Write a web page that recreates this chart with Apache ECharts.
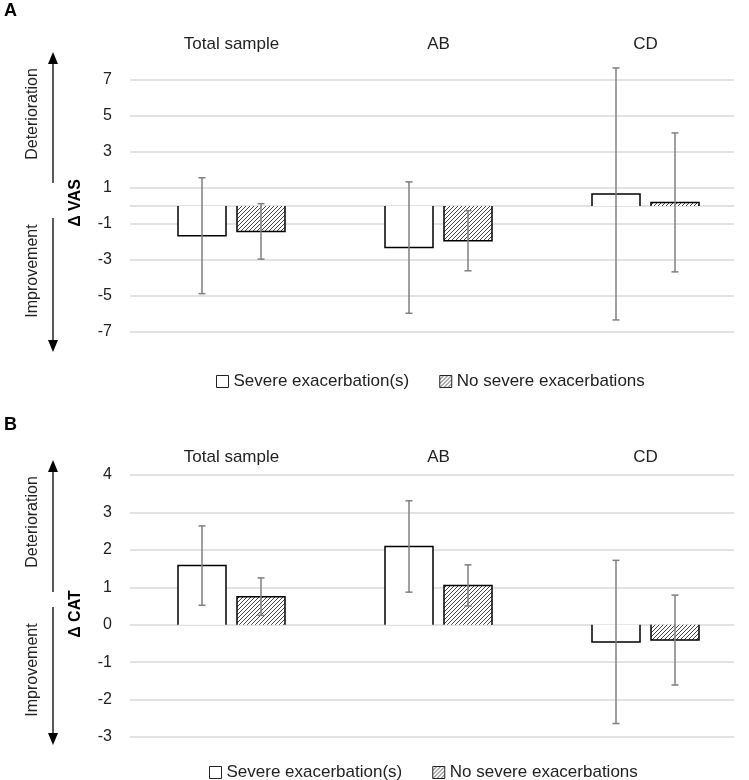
<!DOCTYPE html>
<html><head><meta charset="utf-8">
<script src="https://cdn.jsdelivr.net/npm/echarts@6/dist/echarts.min.js"></script>
<style>html,body{margin:0;padding:0;background:#fff}#c{width:749px;height:780px}</style>
</head><body><div id="c"></div>
<script>
// ---- data ----
const categories = ['Total sample', 'AB', 'CD'];
const seriesNames = ['Severe exacerbation(s)', 'No severe exacerbations'];
// Panel A: Δ VAS (mean, ± error)
const vasSevere = [-1.65, -2.31, 0.67];
const vasSevereErr = [3.22, 3.65, 7.0];
const vasNone = [-1.41, -1.93, 0.2];
const vasNoneErr = [1.54, 1.67, 3.86];
const vasAxis = { min: -7, max: 7, interval: 2 };
// Panel B: Δ CAT (mean, ± error)
const catSevere = [1.58, 2.09, -0.46];
const catSevereErr = [1.06, 1.22, 2.18];
const catNone = [0.75, 1.05, -0.41];
const catNoneErr = [0.5, 0.55, 1.2];
const catAxis = { min: -3, max: 4, interval: 1 };

// ---- styling ----
const FONT = "'Liberation Sans', Arial, sans-serif";
const GRID_COLOR = '#d9d9d9';
const BAR_W = 48, BAR_GAP = 11;
const OFF = (BAR_W + BAR_GAP) / 2;

const pc = document.createElement('canvas'); pc.width = 4; pc.height = 4;
const g = pc.getContext('2d');
g.fillStyle = '#fff'; g.fillRect(0, 0, 4, 4);
g.strokeStyle = '#444'; g.lineWidth = 1;
g.beginPath();
g.moveTo(-1, 5); g.lineTo(5, -1);
g.moveTo(-1, 1); g.lineTo(1, -1);
g.moveTo(3, 5); g.lineTo(5, 3);
g.stroke();
const hatch = { image: pc, repeat: 'repeat' };

function outlineSeries(vals, sign, axIdx) {
  return {
    type: 'custom', xAxisIndex: axIdx, yAxisIndex: axIdx, z: 5, clip: false, silent: true,
    data: vals.map((v, i) => [i, v]),
    renderItem: function (params, api) {
      const c = api.coord([api.value(0), api.value(1)]);
      const z = api.coord([api.value(0), 0]);
      const cx = c[0] + sign * OFF;
      const x0 = cx - BAR_W / 2, x1 = cx + BAR_W / 2;
      return { type: 'polyline', shape: { points: [[x0, z[1]], [x0, c[1]], [x1, c[1]], [x1, z[1]]] },
        style: { stroke: '#000', lineWidth: 1.5, fill: null } };
    }
  };
}
function errSeries(vals, errs, sign, axIdx) {
  return {
    type: 'custom', xAxisIndex: axIdx, yAxisIndex: axIdx, z: 6, clip: false, silent: true,
    data: vals.map((v, i) => [i, v - errs[i], v + errs[i]]),
    renderItem: function (params, api) {
      const lo = api.coord([api.value(0), api.value(1)]);
      const hi = api.coord([api.value(0), api.value(2)]);
      const cx = lo[0] + sign * OFF;
      const st = { stroke: '#7f7f7f', lineWidth: 1.5 };
      return { type: 'group', children: [
        { type: 'line', shape: { x1: cx, y1: lo[1], x2: cx, y2: hi[1] }, style: st },
        { type: 'line', shape: { x1: cx - 3.5, y1: lo[1], x2: cx + 3.5, y2: lo[1] }, style: st },
        { type: 'line', shape: { x1: cx - 3.5, y1: hi[1], x2: cx + 3.5, y2: hi[1] }, style: st }
      ] };
    }
  };
}
function barSeries(name, vals, color, axIdx) {
  return {
    name: name, type: 'bar', xAxisIndex: axIdx, yAxisIndex: axIdx, z: 3,
    barWidth: BAR_W, barGap: (BAR_GAP / BAR_W * 100).toFixed(1) + '%',
    itemStyle: { color: color, borderWidth: 0 }, data: vals, silent: true
  };
}

const panels = [
  { top: 80, height: 252, axis: vasAxis, zeroLine: true, labelMargin: 27 },
  { top: 475, height: 262, axis: catAxis, zeroLine: false, labelMargin: 9 }
];
const grid = [], xAxis = [], yAxis = [];
panels.forEach(p => {
  grid.push({ left: 130, right: 15, top: p.top, height: p.height });
  grid.push({ left: 128, right: 0, top: p.top, height: p.height });
  const gi = grid.length - 2;
  xAxis.push({ type: 'category', gridIndex: gi, data: categories,
    axisLine: { show: p.zeroLine, onZero: true, lineStyle: { color: GRID_COLOR, width: 1.5 } },
    axisTick: { show: false }, axisLabel: { show: false }, splitLine: { show: false } });
  xAxis.push({ type: 'category', gridIndex: gi + 1, data: categories, position: 'top',
    axisLine: { show: false, onZero: false }, axisTick: { show: false },
    axisLabel: { margin: p.labelMargin, fontFamily: FONT, fontSize: 17, color: '#222' } });
  yAxis.push({ type: 'value', gridIndex: gi, min: p.axis.min, max: p.axis.max, interval: p.axis.interval,
    axisLine: { show: false }, axisTick: { show: false },
    axisLabel: { margin: 18, fontFamily: FONT, fontSize: 16, color: '#222' },
    splitLine: { lineStyle: { color: GRID_COLOR, width: 1.5 } } });
  yAxis.push({ type: 'value', gridIndex: gi + 1, min: p.axis.min, max: p.axis.max, show: false,
    splitLine: { show: false } });
});

const series = [
  barSeries(seriesNames[0], vasSevere, '#ffffff', 1),
  barSeries(seriesNames[1], vasNone, hatch, 1),
  outlineSeries(vasSevere, -1, 1), outlineSeries(vasNone, 1, 1),
  errSeries(vasSevere, vasSevereErr, -1, 1), errSeries(vasNone, vasNoneErr, 1, 1),
  barSeries(seriesNames[0], catSevere, '#ffffff', 3),
  barSeries(seriesNames[1], catNone, hatch, 3),
  outlineSeries(catSevere, -1, 3), outlineSeries(catNone, 1, 3),
  errSeries(catSevere, catSevereErr, -1, 3), errSeries(catNone, catNoneErr, 1, 3)
];

function arrowPair(x, upTip, upEnd, downStart, downTip) {
  const st = { stroke: '#000', lineWidth: 1.3 };
  return [
    { type: 'line', shape: { x1: x, y1: upTip + 8, x2: x, y2: upEnd }, style: st },
    { type: 'polygon', shape: { points: [[x, upTip], [x - 5, upTip + 12], [x + 5, upTip + 12]] }, style: { fill: '#000' } },
    { type: 'line', shape: { x1: x, y1: downStart, x2: x, y2: downTip - 8 }, style: st },
    { type: 'polygon', shape: { points: [[x, downTip], [x - 5, downTip - 12], [x + 5, downTip - 12]] }, style: { fill: '#000' } }
  ];
}
function vText(txt, x, y, bold) {
  return { type: 'text', x: x, y: y, rotation: Math.PI / 2,
    style: { text: txt, fontFamily: FONT, fontSize: 16, fontWeight: bold ? 'bold' : 'normal',
      fill: bold ? '#000' : '#222', align: 'center', verticalAlign: 'middle' } };
}

const graphic = [
  { type: 'text', left: 4, top: 2, style: { text: 'A', fontFamily: FONT, fontSize: 18, fontWeight: 'bold', fill: '#000' } },
  { type: 'text', left: 4, top: 416, style: { text: 'B', fontFamily: FONT, fontSize: 18, fontWeight: 'bold', fill: '#000' } },
  ...arrowPair(53, 52, 183, 218, 352),
  ...arrowPair(53, 460, 592, 607, 745),
  vText('Deterioration', 33, 114), vText('Improvement', 33, 271), vText('Δ VAS', 76, 203, true),
  vText('Deterioration', 33, 522), vText('Improvement', 33, 670), vText('Δ CAT', 76, 614, true)
];

const legendBase = { data: seriesNames, itemWidth: 12, itemHeight: 12, icon: 'rect',
  itemStyle: { borderColor: '#222', borderWidth: 1 }, selectedMode: false,
  textStyle: { fontFamily: FONT, color: '#222', fontSize: 17 } };

const chart = echarts.init(document.getElementById('c'), null, { renderer: 'canvas' });
chart.setOption({
  backgroundColor: '#fff',
  animation: false,
  grid: grid, xAxis: xAxis, yAxis: yAxis, series: series, graphic: graphic,
  legend: [
    Object.assign({}, legendBase, { left: 211, top: 368, itemGap: 30 }),
    Object.assign({}, legendBase, { left: 204, top: 759, itemGap: 30 })
  ]
});
</script></body></html>
